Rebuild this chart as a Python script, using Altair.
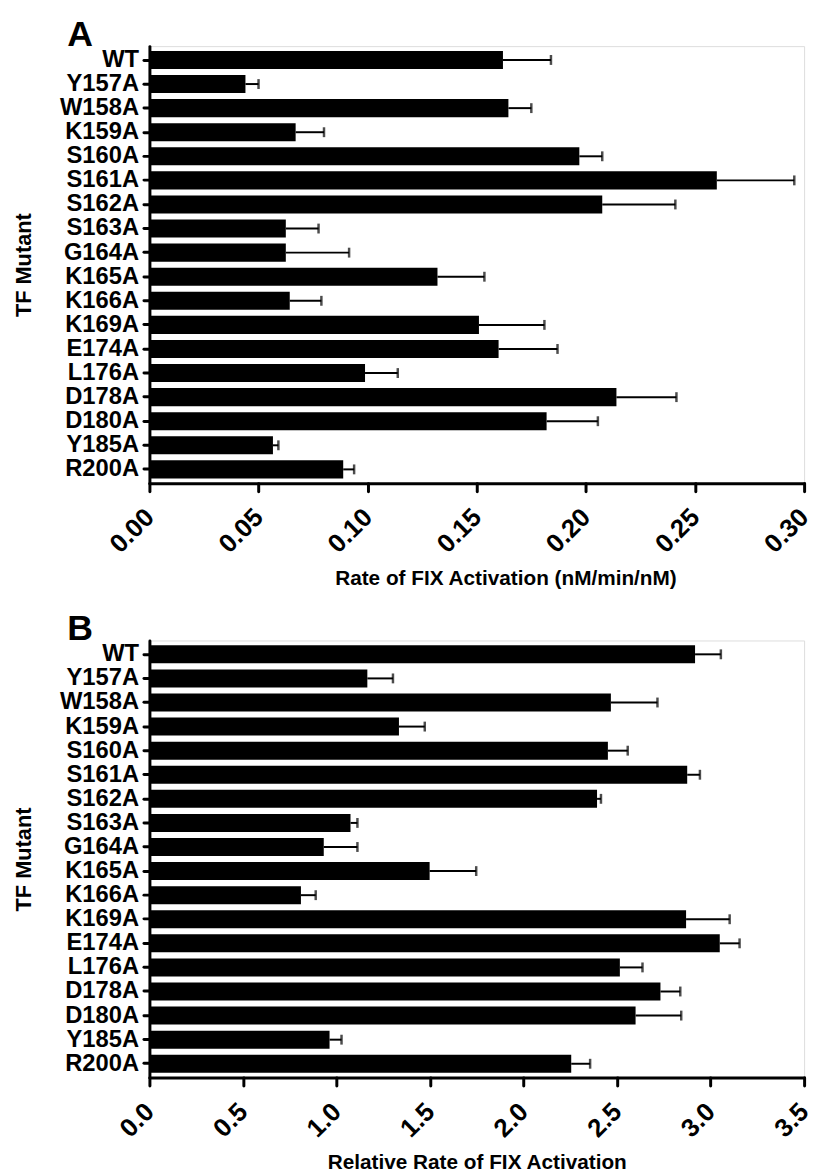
import altair as alt
import pandas as pd

mutants = ["WT", "Y157A", "W158A", "K159A", "S160A", "S161A", "S162A", "S163A", "G164A",
           "K165A", "K166A", "K169A", "E174A", "L176A", "D178A", "D180A", "Y185A", "R200A"]

# Panel A: Rate of FIX activation (nM/min/nM), mean and SD
rate_a = [0.162, 0.044, 0.1645, 0.067, 0.197, 0.260, 0.2075, 0.0625, 0.0625,
          0.132, 0.0643, 0.151, 0.160, 0.0988, 0.214, 0.182, 0.0566, 0.0888]
sd_a = [0.022, 0.006, 0.0105, 0.013, 0.0105, 0.0355, 0.0335, 0.015, 0.029,
        0.0215, 0.0145, 0.030, 0.027, 0.015, 0.0275, 0.0235, 0.0025, 0.005]

# Panel B: Relative rate of FIX activation, mean and SD
rate_b = [2.917, 1.165, 2.467, 1.334, 2.451, 2.875, 2.393, 1.075, 0.932,
          1.498, 0.810, 2.869, 3.049, 2.515, 2.732, 2.599, 0.963, 2.255]
sd_b = [0.138, 0.137, 0.249, 0.138, 0.106, 0.068, 0.021, 0.037, 0.180,
        0.249, 0.079, 0.233, 0.106, 0.121, 0.106, 0.244, 0.064, 0.101]

ticks_a = [0.00, 0.05, 0.10, 0.15, 0.20, 0.25, 0.30]
ticks_b = [0.0, 0.5, 1.0, 1.5, 2.0, 2.5, 3.0, 3.5]

FONT = "Liberation Sans, Arial, sans-serif"


def panel(values, sds, letter, xtitle, ticks, fmt, title_x):
    df = pd.DataFrame({"mutant": mutants, "value": values, "sd": sds})
    base = alt.Chart(df).transform_calculate(hi="datum.value + datum.sd")
    ysort = alt.Y("mutant:N", sort=mutants)
    yenc = alt.Y(
        "mutant:N", sort=mutants, title="TF Mutant",
        scale=alt.Scale(paddingInner=0.25, paddingOuter=0.2),
        axis=alt.Axis(
            domainWidth=3, domainColor="black", domainCap="round",
            tickSize=6, tickWidth=3, tickColor="black", tickCap="round",
            labelFont=FONT, labelFontWeight="bold", labelFontSize=24,
            labelColor="black", labelPadding=5,
            titleFont=FONT, titleFontWeight="bold", titleFontSize=22,
            titleColor="black", titlePadding=24,
        ),
    )
    xenc = alt.X(
        "value:Q", title=xtitle,
        scale=alt.Scale(domain=[ticks[0], ticks[-1]], nice=False, zero=True),
        axis=alt.Axis(
            values=ticks, format=fmt, grid=False,
            domainWidth=3, domainColor="black", domainCap="round",
            tickSize=8, tickWidth=3, tickColor="black", tickCap="round",
            labelAngle=-45, labelAlign="right", labelBaseline="middle",
            labelFont=FONT, labelFontWeight="bold", labelFontSize=26,
            labelColor="black", labelPadding=22, labelFlush=False,
            labelOverlap=False, labelBound=False,
            titleFont=FONT, titleFontWeight="bold", titleFontSize=21,
            titleColor="black", titlePadding=10, titleX=title_x,
        ),
    )
    bars = base.mark_bar(color="black").encode(x=xenc, y=yenc)
    rule = base.mark_rule(color="black", strokeWidth=2).encode(
        x="value:Q", x2="hi:Q", y=ysort)
    cap = base.mark_tick(color="black", thickness=2.5, size=10).encode(
        x="hi:Q", y=ysort)
    label = alt.Chart(pd.DataFrame({"panel": [letter]})).mark_text(
        font=FONT, fontWeight="bold", fontSize=36, color="black",
        align="left", baseline="top",
    ).encode(text="panel:N", x=alt.value(-83), y=alt.value(-28))
    return alt.layer(bars, rule, cap, label).properties(width=662, height=442)


pa = panel(rate_a, sd_a, "A", "Rate of FIX Activation (nM/min/nM)", ticks_a, ".2f", 360)
pb = panel(rate_b, sd_b, "B", "Relative Rate of FIX Activation", ticks_b, ".1f", 331)

chart = alt.vconcat(pa, pb, spacing=22).properties(
    padding={"left": 4, "top": 2, "right": 0, "bottom": 0}
).configure_view(strokeWidth=0).configure(background="white")

chart.save("out.html", embed_options={"renderer": "svg", "actions": False})
